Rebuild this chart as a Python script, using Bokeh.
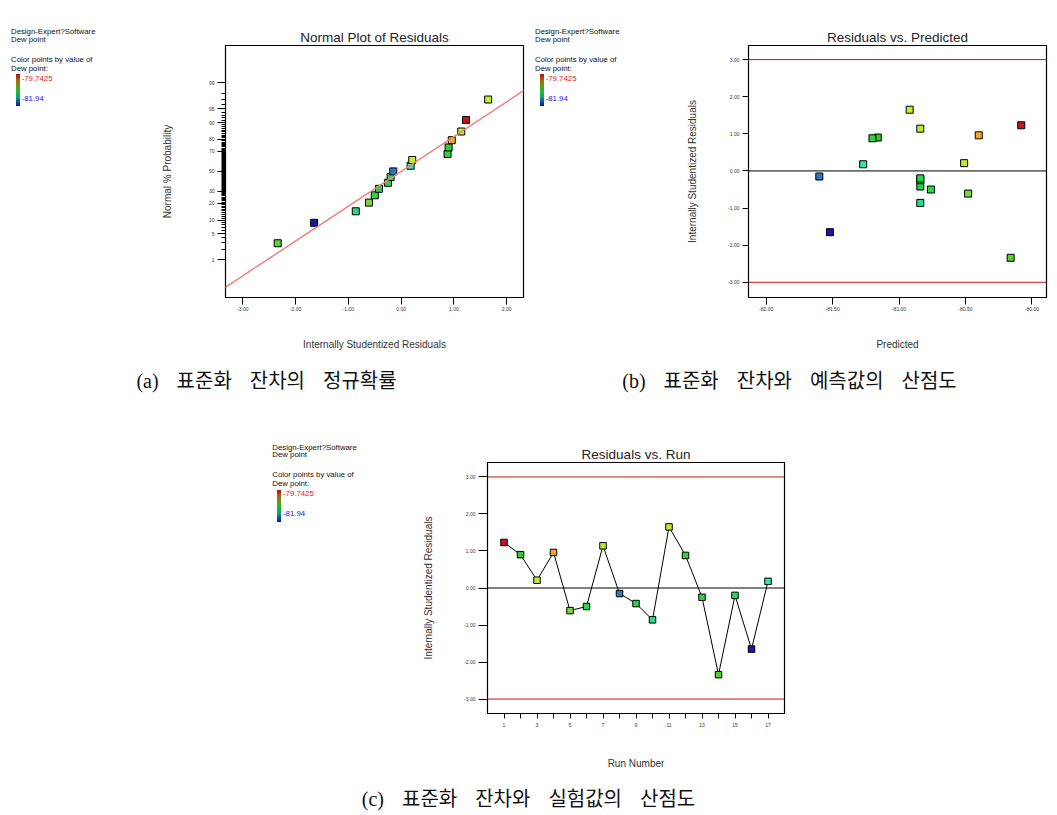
from statistics import NormalDist
from bokeh.plotting import figure
from bokeh.layouts import row, column
from bokeh.models import (Range1d, FixedTicker, NumeralTickFormatter, Div, Spacer,
                          Span, Slope, ColumnDataSource)
from bokeh.embed import file_html
from bokeh.resources import INLINE

# ---------------- data ----------------
run_number = list(range(1, 18))
studentized_residual = [1.23, 0.90, 0.21, 0.96, -0.61, -0.50, 1.14, -0.15, -0.42,
                        -0.86, 1.65, 0.88, -0.25, -2.34, -0.20, -1.65, 0.18]
predicted_dew_point = [-80.08, -81.16, -80.51, -80.40, -80.48, -80.76, -80.84, -81.60, -80.84,
                       -80.84, -80.92, -81.20, -80.84, -80.16, -80.84, -81.52, -81.27]
normal_pct_by_rank = [2.94, 8.82, 14.71, 20.59, 26.47, 32.35, 38.24, 44.12, 50.00,
                      55.88, 61.76, 67.65, 73.53, 79.41, 85.29, 91.18, 97.06]
prob_tick_pct = [1, 5, 10, 20, 30, 50, 70, 80, 90, 95, 99]
prob_minor_pct = list(range(1, 100))
normal_x_ticks = [-3, -2, -1, 0, 1, 2]
resid_ticks = [-3, -2, -1, 0, 1, 2, 3]
pred_ticks = [-82.0, -81.5, -81.0, -80.5, -80.0]
run_major_ticks = [1, 3, 5, 7, 9, 11, 13, 15, 17]
run_minor_ticks = [2, 4, 6, 8, 10, 12, 14, 16]
control_limits = [-3.0, 3.0]
ref_line_gradient = 0.915
dew_point_max = "-79.7425"
dew_point_min = "-81.94"
legend_lines = ["Design-Expert?Software", "Dew point", "Color points by value of", "Dew point:"]
titles = ["Normal Plot of Residuals", "Residuals vs. Predicted", "Residuals vs. Run"]
captions = ["(a) 표준화 잔차의 정규확률",
            "(b) 표준화 잔차와 예측값의 산점도",
            "(c) 표준화 잔차와 실험값의 산점도"]

# ---------------- styles ----------------
point_colors = ["#c8141e", "#38c838", "#c0ec30", "#f0a828", "#78d83c", "#2ad84a",
                "#b8ec30", "#2a78c0", "#28d050", "#28d888", "#b8f030", "#38d040",
                "#30d040", "#58d030", "#28d858", "#1818b0", "#30e8a8"]
FONT = "Liberation Sans"
LIMIT_RED = "#cc1111"
nd = NormalDist()


def zq(p):
    return nd.inv_cdf(p / 100.0)


def base_fig(title, w, h, xr, yr, bl, br, bt, bb):
    p = figure(width=w, height=h, x_range=Range1d(*xr), y_range=Range1d(*yr),
               output_backend="svg", toolbar_location=None, title=title,
               min_border_left=bl, min_border_right=br, min_border_top=bt, min_border_bottom=bb)
    p.title.align = "center"
    p.title.text_font = FONT
    p.title.text_font_size = "13.5px"
    p.title.text_font_style = "normal"
    p.title.text_color = "#222222"
    p.title.standoff = 2
    p.outline_line_color = "black"
    p.outline_line_width = 1.2
    p.xgrid.visible = False
    p.ygrid.visible = False
    for ax in (p.xaxis[0], p.yaxis[0]):
        ax.axis_line_color = "black"
        ax.major_tick_line_color = "black"
        ax.major_tick_in = 0
        ax.minor_tick_line_color = None
        ax.major_label_text_font = FONT
        ax.major_label_text_font_size = "5px"
        ax.major_label_text_color = "#333333"
        ax.axis_label_text_font = FONT
        ax.axis_label_text_font_size = "10px"
        ax.axis_label_text_font_style = "normal"
        ax.axis_label_text_color = "#333333"
    return p


# ---------------- (a) normal plot ----------------
order = sorted(range(len(studentized_residual)), key=lambda i: studentized_residual[i])
src_a = ColumnDataSource(dict(
    x=[studentized_residual[i] for i in order],
    y=[zq(p) for p in normal_pct_by_rank],
    c=[point_colors[i] for i in order]))
pa = base_fig(titles[0], 390, 355, (-3.33, 2.32), (-3.316, 3.31), 85, 7, 45, 58)
pa.add_layout(Slope(gradient=ref_line_gradient, y_intercept=0, line_color="#f08080", line_width=1.5))
pa.scatter("x", "y", source=src_a, marker="square", size=7, fill_color="c",
           line_color="black", line_width=1)
major_z = [zq(p) for p in prob_tick_pct]
minor_z = [zq(p) for p in prob_minor_pct if p not in prob_tick_pct]
pa.yaxis.ticker = FixedTicker(ticks=major_z, minor_ticks=minor_z)
pa.yaxis.major_label_overrides = {mz: str(p) for mz, p in zip(major_z, prob_tick_pct)}
pa.yaxis.minor_tick_line_color = "black"
pa.yaxis.minor_tick_in = 0
pa.yaxis.minor_tick_out = 4
pa.yaxis.major_tick_out = 8
pa.yaxis.major_label_standoff = 3
pa.yaxis.axis_label = "Normal % Probability"
pa.yaxis.axis_label_standoff = 33
pa.xaxis.ticker = FixedTicker(ticks=normal_x_ticks)
pa.xaxis.formatter = NumeralTickFormatter(format="0.00")
pa.xaxis.major_tick_out = 7
pa.xaxis.major_label_standoff = 2
pa.xaxis.axis_label = "Internally Studentized Residuals"
pa.xaxis.axis_label_standoff = 25

# ---------------- (b) residuals vs predicted ----------------
src_b = ColumnDataSource(dict(x=predicted_dew_point, y=studentized_residual, c=point_colors))
pb = base_fig(titles[1], 407, 355, (-82.133, -79.89), (-3.41, 3.38), 98, 11, 45, 58)
for lim in control_limits:
    pb.add_layout(Span(location=lim, dimension="width", line_color=LIMIT_RED, line_width=1))
pb.add_layout(Span(location=0, dimension="width", line_color="black", line_width=1))
pb.scatter("x", "y", source=src_b, marker="square", size=7, fill_color="c",
           line_color="black", line_width=1)
pb.xaxis.ticker = FixedTicker(ticks=pred_ticks)
pb.xaxis.formatter = NumeralTickFormatter(format="0.00")
pb.xaxis.major_tick_out = 7
pb.xaxis.major_label_standoff = 2
pb.xaxis.axis_label = "Predicted"
pb.xaxis.axis_label_standoff = 25
pb.yaxis.ticker = FixedTicker(ticks=resid_ticks)
pb.yaxis.formatter = NumeralTickFormatter(format="0.00")
pb.yaxis.major_tick_out = 6
pb.yaxis.major_label_standoff = 3
pb.yaxis.axis_label = "Internally Studentized Residuals"
pb.yaxis.axis_label_standoff = 27

# ---------------- (c) residuals vs run ----------------
src_c = ColumnDataSource(dict(x=run_number, y=studentized_residual, c=point_colors))
pc = base_fig(titles[2], 400, 355, (0, 18), (-3.39, 3.39), 87, 16, 42, 62)
for lim in control_limits:
    pc.add_layout(Span(location=lim, dimension="width", line_color=LIMIT_RED, line_width=1))
pc.add_layout(Span(location=0, dimension="width", line_color="black", line_width=1))
pc.line("x", "y", source=src_c, line_color="black", line_width=1)
pc.scatter("x", "y", source=src_c, marker="square", size=6.5, fill_color="c",
           line_color="black", line_width=1)
pc.xaxis.ticker = FixedTicker(ticks=run_major_ticks, minor_ticks=run_minor_ticks)
pc.xaxis.minor_tick_line_color = "black"
pc.xaxis.minor_tick_in = 0
pc.xaxis.minor_tick_out = 5
pc.xaxis.major_tick_out = 5
pc.xaxis.major_label_standoff = 4
pc.xaxis.axis_label = "Run Number"
pc.xaxis.axis_label_standoff = 28
pc.yaxis.ticker = FixedTicker(ticks=resid_ticks)
pc.yaxis.formatter = NumeralTickFormatter(format="0.00")
pc.yaxis.major_tick_out = 9
pc.yaxis.major_label_standoff = 3
pc.yaxis.axis_label = "Internally Studentized Residuals"
pc.yaxis.axis_label_standoff = 27


# ---------------- text blocks ----------------
def legend_div(w, h, left, c0):
    items = []

    def t(txt, dx, dc, color="#111111"):
        items.append(f'<div style="position:absolute;left:{left + dx}px;top:{c0 + dc - 4.5}px;'
                     f'white-space:nowrap;color:{color};line-height:9px">{txt}</div>')

    t(legend_lines[0], 0, 0)
    t(legend_lines[1], 0, 7.3)
    t(legend_lines[2], 0, 27.3)
    t(legend_lines[3], 0, 36.6)
    t(dew_point_max, 10.7, 46.6, "#e01818")
    t(dew_point_min, 10.7, 66.6, "#1818e0")
    bar = (f'<div style="position:absolute;left:{left + 4.5}px;top:{c0 + 42.3}px;width:4px;height:32px;'
           'background:linear-gradient(to bottom,#b01010,#a07010 22%,#20c020 50%,#10a080 72%,#1010b0)"></div>')
    html = (f'<div style="position:relative;width:{w}px;height:{h}px;'
            "font-family:'Liberation Sans',Arial,sans-serif;font-size:7.8px\">"
            + "".join(items) + bar + '</div>')
    return Div(text=html, width=w, height=h, margin=0)


def caption_div(text, w, h, pad_top):
    html = (f'<div style="width:{w}px;height:{h}px;padding-top:{pad_top}px;box-sizing:border-box;'
            "text-align:center;white-space:nowrap;font-family:'Liberation Serif','Noto Sans CJK KR',serif;"
            f'font-size:20px;line-height:24px;word-spacing:13px;color:#111111">{text}</div>')
    return Div(text=html, width=w, height=h, margin=0)


top_row = row(legend_div(140, 355, 11, 31.7), pa, legend_div(120, 355, 5, 31.7), pb, spacing=0)
cap_row1 = row(caption_div(captions[0], 533, 65, 14), caption_div(captions[1], 513, 65, 14),
               Spacer(width=11, height=65), spacing=0)
bottom_row = row(Spacer(width=262, height=355), legend_div(138, 355, 10.3, 27.3), pc,
                 Spacer(width=257, height=355), spacing=0)
cap_row2 = row(caption_div(captions[2], 1057, 40, 12), spacing=0)
page = column(top_row, cap_row1, bottom_row, cap_row2, spacing=0)

open("out.html", "w").write(file_html(page, INLINE))
